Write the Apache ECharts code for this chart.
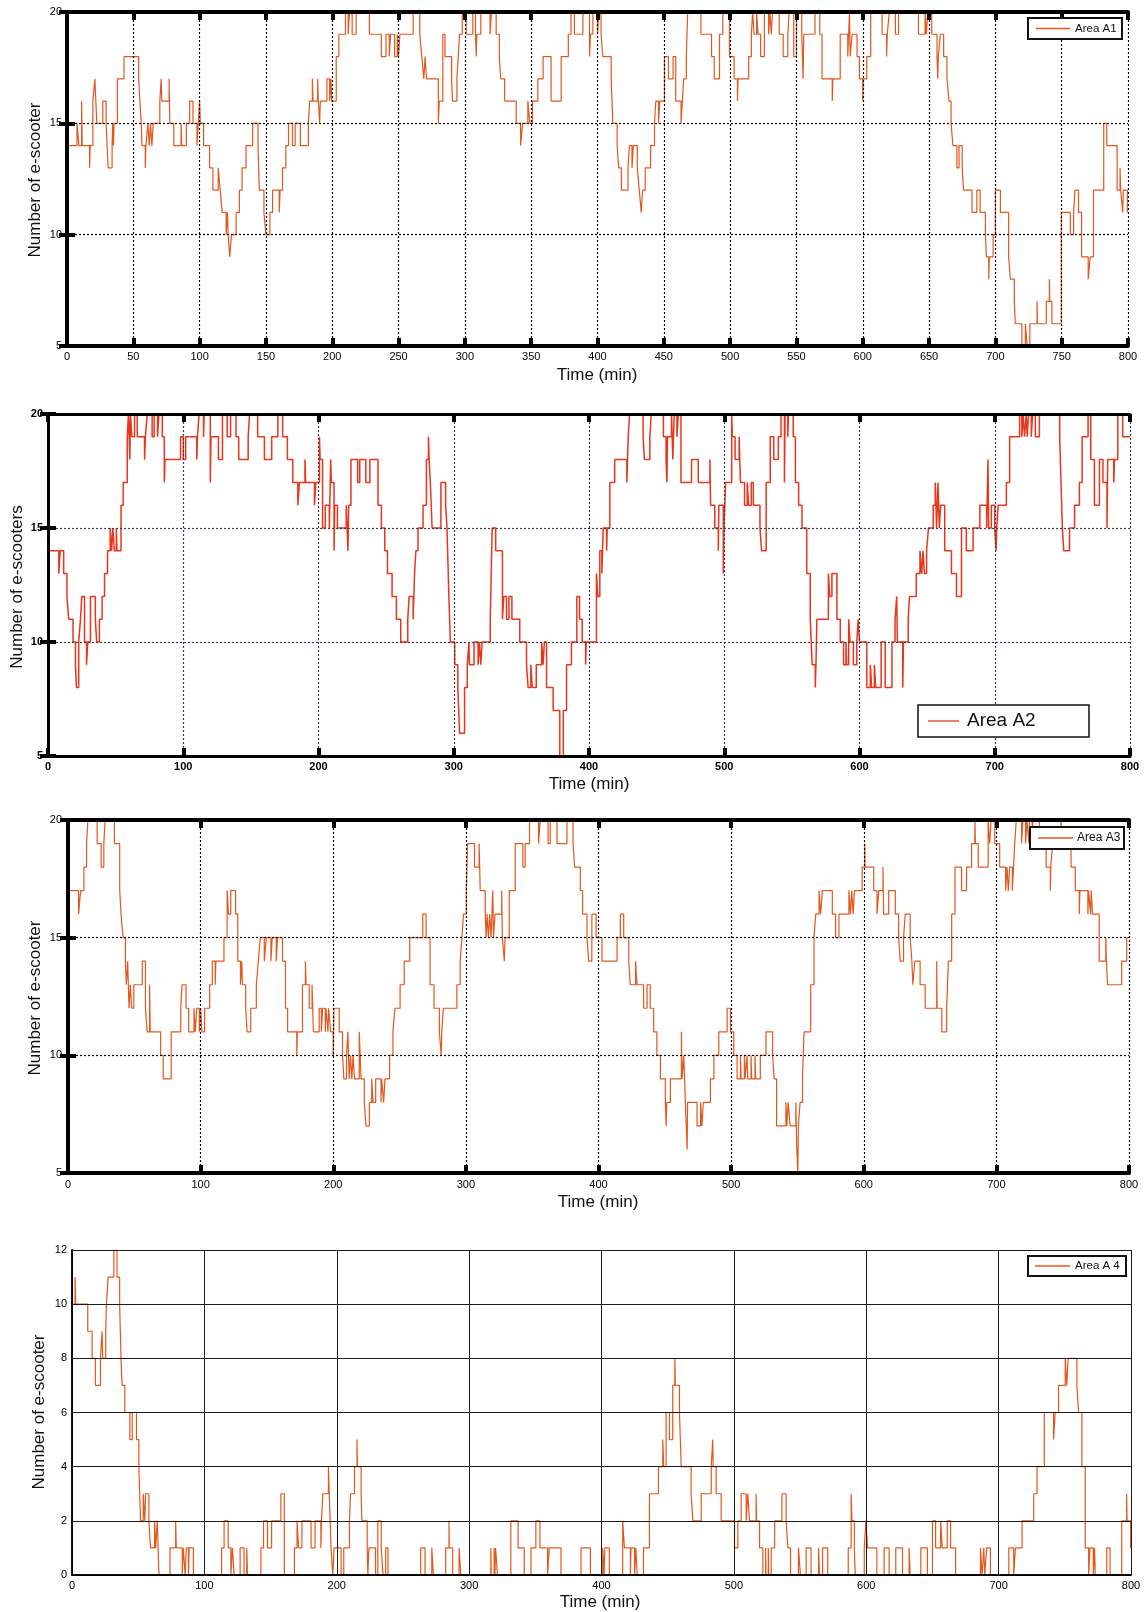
<!DOCTYPE html>
<html><head><meta charset="utf-8">
<script src="https://cdn.jsdelivr.net/npm/echarts@6/dist/echarts.min.js"></script>
<style>html,body{margin:0;padding:0;background:#fff}#c{width:1146px;height:1612px}</style>
</head><body><div id="c"></div><script>
// ---- DATA: [time (min), number of e-scooters] change points (step series) ----
const areaA1 = [[0,15],[1,14],[7.5,15],[9,14],[11,16],[11.5,14],[17,13],[17.5,14],[19.5,16],[21,17],[22.5,15],[27,16],[29.5,15],[31,13],[34,14],[34.5,15],[35,14],[35.5,15],[38,17],[43,18],[54,17],[55,16],[56,15],[56.5,14],[59,13],[59.5,14],[61,15],[62,14],[63,15],[64,14],[65,15],[70,16],[71,17],[71.5,16],[77,17],[77.5,15],[80.5,14],[86,15],[86.5,14],[90,15],[92.5,16],[95,15],[98,14],[99,15],[100,16],[100.5,15],[103,14],[107.5,13],[110,12],[114,13],[115.5,12],[117,11],[120,10],[121,11],[121.5,10],[122.7,9],[124,10],[127.5,11],[130,12],[132,13],[135,14],[140,15],[144,14],[145,12],[148.5,11],[150,10],[153,11],[155,12],[160,11],[160.7,12],[162.5,13],[165,14],[167,15],[170,14],[172,15],[176,14],[182,15],[183,16],[185,17],[185.5,16],[189,17],[189.5,16],[190.5,15],[191,16],[196,17],[198,16],[199,17],[199.5,16],[203,18],[205,19],[210,20],[212,19],[213,20],[215,19],[218,20],[228,19],[237,18],[240.5,19],[243,18],[244,19],[247,18],[249,19],[250,18],[251,19],[261,20],[266,19],[267.5,18],[269,17],[270,18],[271,17],[280,15],[280.7,16],[283.4,19],[285,18],[290,17],[290.6,16],[294,17],[295,18],[296,19],[298,20],[301,19],[306,20],[308,19],[308.6,18],[309,19],[312,20],[319,19],[320,20],[323.6,19],[326,18],[327,17],[330,16],[338.7,15],[342,14],[343.5,15],[347.5,16],[349,15],[351,16],[355,17],[359,18],[365,16],[372.6,18],[378,19],[380,20],[382.6,19],[389,20],[394,18],[394.7,19],[396.5,20],[400,19],[401,20],[402.7,19],[404,18],[410.3,17],[411.6,15],[414.8,14],[416,13],[418,12],[423,13],[424,14],[426,13],[427,14],[430,13],[431.5,12],[433,11],[434,12],[436,13],[440,14],[443,15],[444,16],[446,15],[447,16],[450.5,18],[453.5,17],[457,18],[459,16],[463,15],[464,16],[465,17],[467,18],[468,20],[478,19],[486,18],[488,17],[492,19],[494.5,20],[499.5,18],[503,17],[505.5,16],[506,17],[514,18],[516,19],[517,20],[518,19],[520,20],[521,19],[523,18],[525.8,20],[529,19],[530,20],[531,19],[532,20],[537,19],[540,18],[543.5,19],[544.5,20],[548,18],[550,20],[554,19],[555,17],[555.5,19],[564,20],[567.6,19],[569.3,17],[577,16],[577.5,17],[583,19],[588.7,18],[590,20],[590.5,18],[592,19],[595.7,18],[597.5,17],[600,16],[600.5,17],[603,18],[606,20],[614.6,19],[618,18],[618.5,19],[620,20],[624.6,19],[627,20],[642,19],[647,20],[648,19],[649,20],[652,19],[656,18],[656.5,17],[657,18],[658.5,19],[661,18],[663.5,17],[665,16],[666.6,15],[668,14],[671,13],[672.6,14],[675,13],[676,12],[682.4,11],[686,12],[688.5,11],[692.5,10],[693.2,9],[695,8],[695.5,9],[698.3,10],[700,12],[703.8,11],[710,9],[711.3,8],[714.3,7],[715,6],[720,5],[722.6,6],[724,5],[726,6],[731.4,7],[731.7,6],[738.4,7],[740.7,8],[741,7],[742.6,6],[749.7,11],[756.5,10],[759,11],[760,12],[762.7,11],[765,9],[770,8],[771.5,9],[774,12],[781.7,15],[784,14],[791.8,12],[794,13],[794.5,12],[796,11],[796.5,12],[799.5,11],[800,11]];

const areaA2 = [[0,15],[1,14],[8,13],[9,14],[11.6,13],[14,12],[15.3,11],[18.5,10],[20.3,9],[21,8],[22.7,10],[24,11],[25,12],[27,10],[28.5,9],[29.4,10],[31.4,12],[35,11],[36,10],[38,11],[40,12],[41.8,13],[44,14],[46,15],[47,14],[48,15],[49,14],[50.5,15],[51,14],[54,16],[55.6,17],[58.6,19],[59.5,20],[60.5,18],[61,20],[62,19],[64,20],[66,19],[71.4,18],[72,19],[73.4,20],[77,19],[78.5,20],[81,19],[82,20],[84.5,19],[86,17],[86.5,18],[98,19],[100,18],[101.8,19],[110,18],[110.5,19],[111.7,20],[115,19],[115.5,20],[120,17],[120.5,19],[126,18],[129,20],[132.5,19],[135,20],[139,19],[141,18],[148,19],[149,20],[155,19],[160,18],[165.4,19],[170,20],[173.5,19],[177,18],[181,17],[184.7,16],[185.9,17],[190,18],[190.5,17],[197,16],[198,17],[200.7,19],[201.2,18],[203,15],[205,16],[208,15],[209,18],[209.5,17],[211.5,14],[212,16],[214,15],[220.5,16],[221.8,14],[222.3,16],[224,18],[229,17],[230.5,18],[235,17],[238,18],[244,16],[246.5,15],[249,14],[251,13],[254.4,12],[257.6,11],[260.8,10],[266,11],[267,12],[270,11],[271,13],[272,14],[273.6,15],[277.3,16],[279.8,18],[281.3,19],[281.8,18],[282.7,17],[284,15],[290.5,17],[294,16],[295,15],[296.4,12],[297.5,10],[300.7,9],[303,8],[304.3,6],[308,8],[310,9],[311.2,10],[311.6,9],[315,10],[318,9],[319,10],[320,9],[321,10],[327,11],[328.4,15],[331,14],[336,11],[337,12],[339,11],[340.8,12],[343,11],[348.8,10],[353.8,9],[355,8],[357,9],[358,8],[361,9],[365,10],[366,9],[367,10],[368.6,8],[373.5,7],[378.4,5],[381,7],[383.4,9],[387,10],[391,12],[393,11],[395,10],[397.5,9],[398,10],[405.5,13],[406.5,12],[408,14],[409.5,13],[410.5,15],[413,14],[413.5,15],[415.4,17],[419,18],[428,17],[429,19],[430,20],[440,19],[441,18],[445,19],[446,20],[455,19],[457,18],[457.6,17],[458,19],[461,20],[462,18],[463,20],[465,19],[466,20],[468,17],[475.8,18],[480.8,17],[489.4,18],[489.9,16],[493,15],[495.6,14],[496,16],[499.3,13],[499.8,15],[501,17],[505.5,20],[506,19],[508,18],[511,19],[512,17],[515,16],[517,17],[518,16],[520,17],[521.5,16],[526.4,15],[527.6,14],[531,17],[534,19],[536.6,18],[540,19],[542,20],[544.5,17],[545,20],[547,19],[547.5,20],[551,19],[552.6,17],[555,16],[557.5,15],[561,13],[563.6,11],[565,9],[567.3,8],[567.8,9],[568.5,11],[577,13],[578,12],[579.6,13],[583.3,11],[585.8,10],[588.2,9],[590,10],[590.5,9],[592,11],[593,10],[595.5,9],[598,10],[599,11],[600,10],[605.4,8],[608,9],[609,8],[611,9],[612,8],[616,10],[619,8],[624,10],[626.3,11],[627.5,12],[628,10],[632,8],[632.5,10],[636,11],[637,12],[642,13],[644.7,14],[646,13],[647,14],[648,13],[649.6,14],[651,15],[654.5,16],[656,17],[657,15],[658,17],[659,15],[660,16],[663,14],[668,13],[671.7,12],[675.4,15],[679,14],[684,15],[689,16],[694,15],[695,18],[695.5,15],[697.5,16],[700,15],[701,14],[701.5,15],[702.5,16],[708.6,17],[711,19],[718.4,20],[720,19],[721,20],[722,19],[723.3,20],[724,19],[725,20],[727,19],[728,20],[730,19],[733,20],[748,19],[749,17],[750,15],[751,14],[755.3,15],[759,16],[762.6,17],[764.6,19],[769,20],[771,18],[773.7,16],[777.4,18],[780,17],[783,15],[783.5,18],[788,17],[788.5,18],[791,20],[794.6,19],[800,19]];

const areaA3 = [[0,15],[1,17],[8,16],[9.5,17],[12,18],[14,19],[15,20],[22,19],[25,18],[27,19],[28,20],[35,19],[39,17],[40,16],[41.5,15],[43.3,14],[44,13],[45,14],[46,12],[47,13],[48,12],[49.6,13],[56,14],[58.4,12],[59.7,11],[61.5,13],[62,11],[69.8,10],[71.8,9],[77.8,11],[85,12],[86,13],[89,12],[91,11],[95,12],[96,11],[97,12],[99,11],[100,12],[101,11],[103,12],[106.8,13],[108.8,14],[111,13],[111.5,14],[117.6,15],[120,17],[121,16],[122.7,17],[126.4,16],[128,14],[130,13],[131,14],[131.5,13],[134,12],[135,11],[137.8,12],[142,13],[143.5,14],[145,15],[148,14],[149.5,15],[153,14],[154,15],[157,14],[158,15],[161.7,14],[164,12],[165.6,11],[172.5,10],[173,11],[176.8,13],[179,14],[179.5,13],[181.9,12],[184,13],[185,11],[189.4,12],[191,11],[192,12],[194,11],[194.5,12],[196,11],[196.5,12],[198,11],[200,10],[200.5,12],[204.5,11],[207,10],[208,9],[210,10],[211,11],[212,9],[213,10],[214,9],[215,10],[216,9],[219.6,11],[221,9],[223.4,8],[224.7,7],[227.2,8],[229,9],[230,8],[232,9],[236,8],[236.5,9],[238,8],[239,9],[242.5,10],[245,11],[246.5,12],[250.4,13],[253.5,14],[257.7,15],[267.5,16],[270,15],[273,13],[276,12],[280,11],[281.4,10],[281.8,11],[283,12],[293.2,13],[295.7,14],[297,15],[298.2,16],[300.3,17],[301.3,19],[306.5,18],[310,19],[310.8,17],[314.6,16],[315.3,15],[316,16],[317,15],[318,16],[319,15],[320.3,17],[320.8,15],[322,16],[327,17],[327.5,15],[329,14],[329.5,15],[332.7,17],[337.2,19],[343,18],[344.7,19],[348,20],[354.8,19],[356,20],[362,19],[363.6,20],[368.7,19],[376.2,20],[380.8,19],[382,18],[386.3,17],[388,16],[391.3,15],[392.6,14],[395,16],[398.2,15],[402.6,14],[414,15],[416.5,16],[419,15],[422.8,14],[424,13],[428,14],[429,13],[434,12],[436.6,13],[439,12],[441.6,11],[444,10],[446.7,9],[450.4,8],[451,7],[451.5,8],[454.2,9],[462.5,11],[463,9],[464.3,10],[465.5,8],[466.8,6],[467.2,8],[474.3,7],[477,8],[478,7],[479,8],[484.4,9],[487,10],[490.7,11],[497,12],[499.5,11],[502,10],[504.5,9],[507,10],[507.5,9],[510,10],[510.5,9],[512,10],[512.5,9],[515,10],[515.5,9],[518,10],[518.5,9],[522,10],[526.3,11],[531.3,10],[532.5,9],[534.3,7],[541.3,8],[542,7],[543,8],[544.5,7],[548.8,8],[549.5,6],[550.3,5],[550.7,7],[552,8],[553.8,9],[555,11],[560,13],[562.5,15],[563.8,16],[566.3,17],[567.5,16],[568.8,17],[576.3,16],[578.8,15],[581.3,16],[588.8,17],[590,16],[591,17],[592,16],[593,17],[598.8,18],[600.7,19],[601,18],[607.5,17],[610,16],[611.3,17],[614.5,18],[615,16],[618.8,17],[623.8,16],[626.3,15],[627.5,14],[630,15],[631.3,16],[635,15],[636.3,14],[637,13],[638.5,14],[642.5,13],[646.3,12],[655,14],[655.3,12],[658.8,11],[662.5,12],[663.8,14],[666.3,16],[668.8,18],[673.8,17],[677.5,18],[681.3,19],[683.8,20],[684.2,19],[686.3,18],[693.8,20],[695,19],[696,20],[698.8,19],[702.5,18],[707,17],[708,18],[709,17],[710,18],[712,17],[713,18],[713.8,19],[715,20],[719,19],[720,20],[722,19],[723,20],[724.5,19],[725,20],[727,19],[727.5,20],[732.5,19],[737.5,18],[740.7,17],[741,18],[742.5,19],[748.8,20],[749.5,19],[756.3,18],[759.5,17],[762.5,16],[763,17],[769,16],[769.5,17],[771,16],[771.5,17],[772.5,16],[777.5,14],[782.5,15],[783,14],[783.8,13],[794.5,14],[798.3,15],[800,15]];

const areaA4 = [[0,10],[2.3,11],[2.8,10],[11.9,9],[15.2,8],[17.7,7],[21.5,8],[22.7,9],[23.2,8],[25.5,9],[26,10],[27.3,11],[31.6,12],[34,11],[36,10],[37,8],[37.9,7],[39.9,6],[43.7,5],[45.5,6],[48.7,5],[50.5,4],[51.8,2],[53.8,3],[55,2],[55.6,3],[58.1,2],[59.3,1],[62.4,2],[63.2,1],[64.4,2],[65.7,0],[74,1],[78.3,2],[78.8,1],[83.3,0],[84,1],[85.5,0],[86.3,1],[88,0],[88.5,1],[91.7,0],[113,1],[114.9,2],[118,1],[120,0],[121.2,1],[122.5,0],[127,1],[130,0],[132,1],[132.6,0],[142.7,1],[144.7,2],[147.7,1],[150.8,2],[157.8,3],[160.4,0],[168,1],[170,2],[171.2,1],[173.7,2],[180.6,1],[183.6,2],[188,1],[188.5,2],[189.4,3],[193.7,4],[195,2],[195.7,1],[197,0],[198,1],[203.3,0],[205.3,1],[209.6,2],[210.4,3],[213.4,4],[215.3,5],[215.6,4],[218.4,3],[219,2],[223,1],[223.5,0],[224.3,1],[229.3,0],[231,2],[233.6,1],[235,0],[237,1],[238.7,0],[263.4,1],[266.7,0],[271.8,1],[273,0],[282.3,1],[284.8,2],[285,1],[287.6,0],[292.4,1],[293.7,0],[316.4,1],[316.7,0],[318.9,1],[319.5,0],[320,1],[321.4,0],[331.5,2],[337,1],[341.6,0],[346.7,1],[350.4,2],[353.5,1],[359.3,0],[360.5,1],[369.4,0],[384.5,1],[391.6,0],[400.9,1],[402,0],[402.5,1],[405.9,0],[416,2],[417.3,1],[421.8,0],[422.3,1],[425,0],[426,1],[427,0],[431.7,1],[436.2,3],[443,4],[446.3,5],[447,4],[448.8,6],[451.3,5],[453.8,7],[455.4,8],[455.8,7],[458.9,6],[460.2,4],[467.7,3],[469,2],[475.3,3],[482.9,4],[484,5],[484.4,4],[486.6,3],[490.4,2],[500.5,1],[503,2],[505.5,3],[509.3,2],[510.5,3],[511.8,2],[516.8,3],[517.1,2],[519.4,1],[521.9,0],[524,1],[524.3,0],[526,1],[526.3,0],[528.2,1],[530.8,2],[536.3,3],[539.5,2],[540.8,1],[542.8,0],[548.8,1],[550.3,0],[554.6,1],[558.3,0],[564,1],[564.7,0],[567,1],[570.9,0],[586.4,1],[588.6,3],[589.2,2],[591,1],[591.7,0],[598.5,1],[599.7,2],[601,1],[608,0],[613.5,1],[617.3,0],[622.3,1],[627.4,0],[632.4,1],[633.2,0],[641.2,1],[646.2,0],[650,2],[652.4,1],[656.2,2],[657.4,1],[661.2,2],[663.7,1],[667.5,0],[686.3,1],[687.5,0],[688.8,1],[689.5,0],[691,1],[693.8,0],[707.7,1],[711.4,0],[712.7,1],[717.7,2],[726.5,3],[729,4],[734.5,6],[741.5,5],[742.7,6],[745.3,7],[750.3,8],[751.5,7],[752.5,8],[759.1,7],[760.4,6],[762.9,4],[765.4,1],[768,0],[769,1],[771.5,0],[772.5,1],[773,0],[781.7,1],[784.2,0],[793,2],[796.7,3],[797,2],[799.7,1],[800,1]];

const seriesNames = ['Area A1', 'Area A2', 'Area A3', 'Area A 4'];
const yTitles = ['Number of e-scooter', 'Number of e-scooters', 'Number of e-scooter', 'Number of e-scooter'];
const xTitle = 'Time (min)';
const timeRange = [0, 800];
const xStep = [50, 100, 100, 100];
const yRanges = [[5, 20], [5, 20], [5, 20], [0, 12]];
const yStep = [5, 5, 5, 2];

// ---- STYLE / LAYOUT ----
const FONT = '"Liberation Sans", Arial, sans-serif';
const panels = [
  {data: areaA1, grid:{left:67, top:12, width:1061, height:334}, border:4, tick:true, split:{color:'#000', type:[2,2], width:1.2}, color:'#e2581f', lw:1.2, lab:{fontSize:11, fontWeight:'normal', margin:5},
   yT:[35,180], xT:[597,375], tSize:17,
   leg:{x:1028,y:18,w:94,h:21, l1:1036,l2:1070, tx:1075, fs:11.5, bw:2}},
  {data: areaA2, grid:{left:48, top:414, width:1082, height:342}, border:3, tick:true, split:{color:'#3d3d55', type:[2,2], width:1.2}, color:'#e8361c', lw:1.5, lab:{fontSize:11, fontWeight:'bold', margin:5},
   yT:[17,587], xT:[589,784], tSize:17,
   leg:{x:918,y:705,w:171,h:32, l1:928,l2:959, tx:967, fs:19, bw:1.5}},
  {data: areaA3, grid:{left:68, top:820, width:1061, height:353}, border:4, tick:true, split:{color:'#000', type:[2,2], width:1.2}, color:'#e2581f', lw:1.2, lab:{fontSize:11, fontWeight:'normal', margin:6},
   yT:[35,998], xT:[598,1202], tSize:17,
   leg:{x:1030,y:827,w:94,h:22, l1:1038,l2:1073, tx:1077, fs:12, bw:2}},
  {data: areaA4, grid:{left:72, top:1250, width:1059, height:325}, border:1.5, tick:false, split:{color:'#1a1a1a', type:'solid', width:1}, color:'#e5581c', lw:1.2, lab:{fontSize:11, fontWeight:'normal', margin:5},
   yT:[39,1412], xT:[600,1602], tSize:17,
   leg:{x:1028,y:1256,w:98,h:20, l1:1035,l2:1070, tx:1075, fs:11.5, bw:2}}
];

const grids = [], xAxes = [], yAxes = [], series = [], graphics = [];
panels.forEach((p, i) => {
  grids.push(Object.assign({containLabel:false}, p.grid));
  const line = {show:true, lineStyle:{color:'#000', width:p.border}};
  const tick = {show:p.tick, inside:true, length:8, lineStyle:{color:'#000', width:4}};
  const lab = {color:'#000', fontFamily:FONT, fontSize:p.lab.fontSize, fontWeight:p.lab.fontWeight, margin:p.lab.margin};
  // bottom x
  xAxes.push({gridIndex:i, type:'value', min:timeRange[0], max:timeRange[1], interval:xStep[i], position:'bottom',
    axisLine:line, axisTick:tick, axisLabel:lab, splitLine:{show:true, lineStyle:p.split}, z:3});
  // top x
  xAxes.push({gridIndex:i, type:'value', min:timeRange[0], max:timeRange[1], interval:xStep[i], position:'top',
    axisLine:line, axisTick:tick, axisLabel:{show:false}, splitLine:{show:false}, z:3});
  // left y
  yAxes.push({gridIndex:i, type:'value', min:yRanges[i][0], max:yRanges[i][1], interval:yStep[i], position:'left',
    axisLine:line, axisTick:tick, axisLabel:lab, splitLine:{show:true, lineStyle:p.split}, z:3});
  // right y
  yAxes.push({gridIndex:i, type:'value', min:yRanges[i][0], max:yRanges[i][1], interval:yStep[i], position:'right',
    axisLine:line, axisTick:tick, axisLabel:{show:false}, splitLine:{show:false}, z:3});
  series.push({type:'line', name:seriesNames[i], xAxisIndex:2*i, yAxisIndex:2*i, data:p.data, step:'end',
    showSymbol:false, symbol:'none', lineStyle:{color:p.color, width:p.lw}, z:2, animation:false});
  // axis titles
  graphics.push({type:'text', x:p.yT[0], y:p.yT[1], rotation:Math.PI/2, z:10,
    style:{text:yTitles[i], font:p.tSize+'px '+FONT, fill:'#111', align:'center', verticalAlign:'middle'}});
  graphics.push({type:'text', x:p.xT[0], y:p.xT[1], z:10,
    style:{text:xTitle, font:p.tSize+'px '+FONT, fill:'#111', align:'center', verticalAlign:'middle'}});
  // legend box
  const L = p.leg, cy = L.y + L.h/2;
  graphics.push({type:'rect', z:10, shape:{x:L.x, y:L.y, width:L.w, height:L.h}, style:{fill:'#fff', stroke:'#111', lineWidth:L.bw}});
  graphics.push({type:'line', z:11, shape:{x1:L.l1, y1:cy, x2:L.l2, y2:cy}, style:{stroke:p.color, lineWidth:1.3}});
  graphics.push({type:'text', z:11, x:L.tx, y:cy, style:{text:seriesNames[i], font:L.fs+'px '+FONT, fill:'#111', align:'left', verticalAlign:'middle'}});
});

const chart = echarts.init(document.getElementById('c'), null, {renderer:'canvas'});
chart.setOption({
  animation:false,
  backgroundColor:'#fff',
  grid:grids, xAxis:xAxes, yAxis:yAxes, series:series, graphic:graphics
});
</script></body></html>
